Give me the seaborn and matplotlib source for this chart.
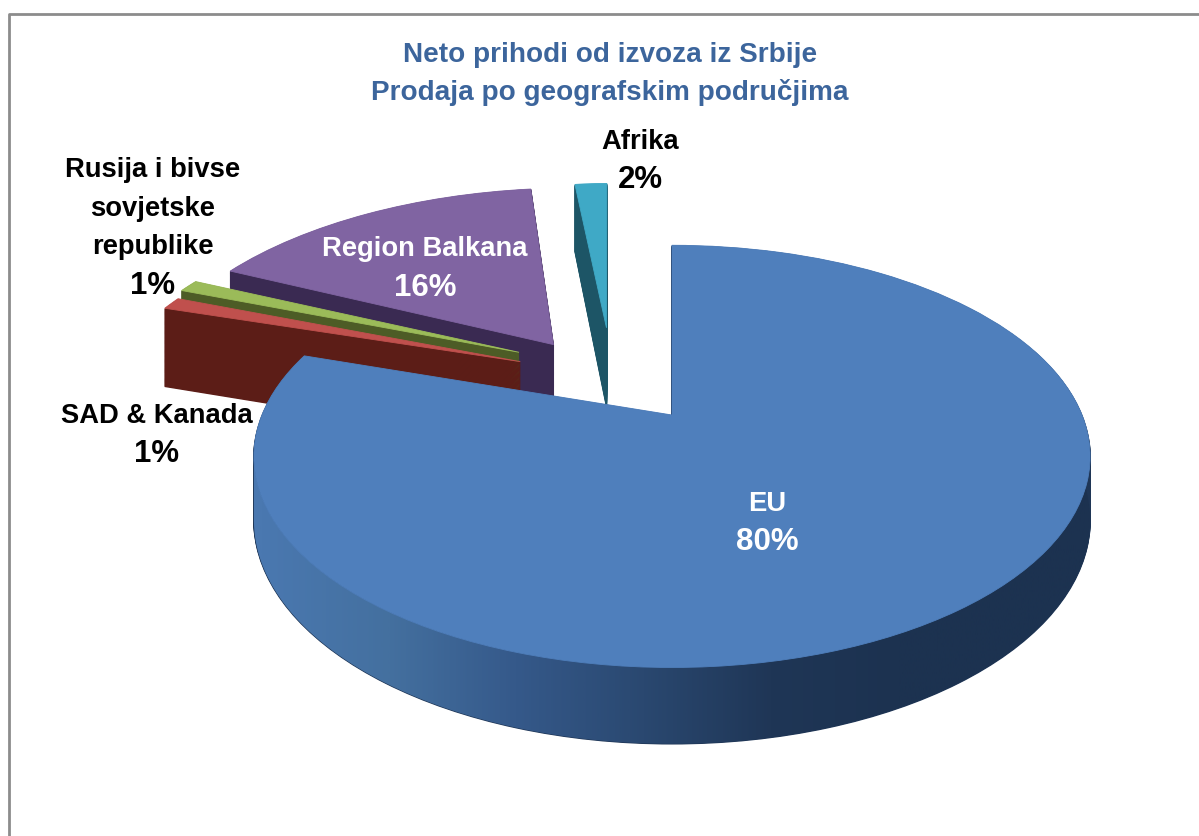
import numpy as np
import matplotlib
matplotlib.use("Agg")
import matplotlib.pyplot as plt
from matplotlib.patches import PathPatch
from matplotlib.path import Path
from matplotlib.transforms import Transform
import seaborn as sns

# ---- data
categories = ["EU", "SAD & Kanada", "Rusija i bivse\nsovjetske\nrepublike", "Region Balkana", "Afrika"]
shares = [80, 1, 1, 16, 2]
title_lines = ["Neto prihodi od izvoza iz Srbije", "Prodaja po geografskim područjima"]

# ---- style
top_colors = ["#4f7fbc", "#c0504d", "#9bbb59", "#8064a2", "#3fa9c6"]
side_colors = ["#1f3656", "#5c1d17", "#4d5c26", "#3a2a52", "#1d5566"]
explode = [0, 0.42, 0.40, 0.46, 0.47]
paint_order = [4, 3, 2, 1, 0]   # back to front
shift_x = [0, 0.005, -0.03, -0.04, -0.145]
shift_y = [0, 0.135, 0.17, 0, 0]
scale_x = [1, 1.04, 1.035, 1.04, 0.8]
scale_y = [1, 1, 1, 1.06, 1]
shear_x = [0, 0, 0, 0, -0.03]
drop_gain = [0.93, 1.32, 1.0, 1.05, 1.3]

CX, CY, RX, RY, K, DROP = 672, 415, 410, 203, 0.196, 66
LAYERS = 70

sns.set_theme(style="white")
plt.rcParams["font.family"] = ["Liberation Sans", "DejaVu Sans"]


def project(xy, drop=0.0):
    xy = np.asarray(xy, float)
    w = 1 + K * xy[..., 1]
    return np.stack([CX + RX * xy[..., 0] / w,
                     CY - RY * xy[..., 1] / w + drop / w], axis=-1)


class Tilt(Transform):
    input_dims = output_dims = 2

    def __init__(self, drop, i, apex):
        super().__init__()
        self.drop, self.i, self.apex = drop, i, apex

    def transform_non_affine(self, values):
        i = self.i
        p = (np.asarray(values, float) - self.apex) * [scale_x[i], scale_y[i]]
        p = p + np.stack([shear_x[i] * p[..., 1], np.zeros(len(p))], axis=-1)
        p = p + self.apex + [shift_x[i], shift_y[i]]
        return project(p, self.drop)


fig = plt.figure(figsize=(11.99, 8.36), dpi=100)
ax = fig.add_axes([0, 0, 1, 1])

edges = 90 - 360 * np.cumsum([0] + shares) / sum(shares)
mids = np.radians((edges[:-1] + edges[1:]) / 2)
apexes = [np.array([np.cos(m), np.sin(m)]) * e for m, e in zip(mids, explode)]


def draw_layer(fraction, colors, level, lw):
    wedges, _ = ax.pie(shares, startangle=90, counterclock=False, explode=explode,
                       colors=colors, wedgeprops=dict(linewidth=lw))
    for i, wedge in enumerate(wedges):
        drop = fraction * DROP * drop_gain[i]
        wedge.set_transform(Tilt(drop, i, apexes[i]) + ax.transData)
        wedge.set_edgecolor(colors[i])
        wedge.set_zorder(10 * paint_order.index(i) + 1 + level)


for fraction in np.linspace(1, 0, LAYERS, endpoint=False):
    draw_layer(fraction, side_colors, 0, 1.0)
draw_layer(0, top_colors, 5, 0.6)

# gradient on the rim of the largest slice, from its leftmost point round the front
theta = np.radians(np.linspace(edges[1] + 360, 380, 800))
arc = np.stack([np.cos(theta), np.sin(theta)], axis=-1)
arc = arc[np.argmin(project(arc)[:, 0]):]
rim_top = project(arc)
rim_bottom = project(arc, DROP * drop_gain[0])
rim_poly = Path(np.vstack([rim_top, rim_bottom[::-1]]), closed=False)
rim_cmap = sns.blend_palette(["#4a78b0", "#44709f", "#35598a", "#2a4870", "#1f3656", "#1c3250"],
                             as_cmap=True)
zr = 10 * paint_order.index(0) + 3
clip = PathPatch(rim_poly, transform=ax.transData, facecolor="none", edgecolor="none", zorder=zr)
ax.add_patch(clip)
rim_x = np.linspace(200, 1150, 512)
rim_vals = np.clip((rim_x - 260) / 640, 0, 1)
img = ax.imshow(rim_vals[None, :], cmap=rim_cmap, vmin=0, vmax=1, aspect="auto",
                extent=(200, 1150, 800, 300), zorder=zr)
img.set_clip_path(clip)

ax.set_aspect("auto")
ax.set_xlim(0, 1199)
ax.set_ylim(836, 0)
ax.axis("off")

# frame
ax.plot([8.5, 8.5, 1199], [836, 13.5, 13.5], color="#8c8c8c", lw=2, zorder=1, clip_on=False)

# title
title_color = "#3c659c"
for line, y in zip(title_lines, [55, 93]):
    ax.text(610, y, line, color=title_color, fontsize=20.1, fontweight="bold",
            ha="center", va="center", zorder=200)

# labels: name lines, then the share a little larger
label_pos = [(767, 504, "white"), (157, 416, "black"), (153, 170, "black"),
             (425, 249, "white"), (640, 142, "black")]
for name, val, (x, y0, c) in zip(categories, shares, label_pos):
    lines = name.split("\n")
    for j, line in enumerate(lines):
        ax.text(x, y0 + 38.5 * j, line, color=c, fontsize=19.7, fontweight="bold",
                ha="center", va="center", zorder=200)
    ax.text(x, y0 + 38.5 * len(lines), f"{val}%", color=c, fontsize=22.5, fontweight="bold",
            ha="center", va="center", zorder=200)

fig.savefig("out.png", dpi=100)
